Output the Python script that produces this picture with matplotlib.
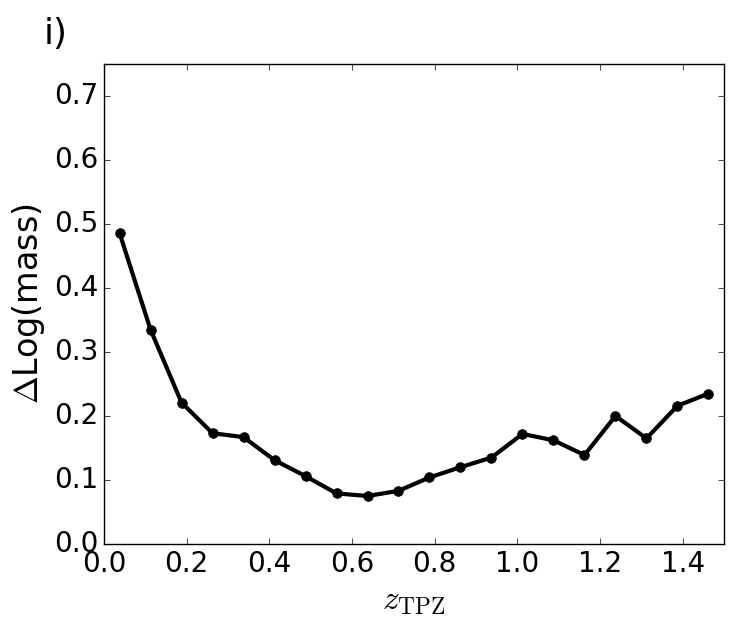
import numpy as np
import matplotlib.pyplot as plt

plt.style.use('classic')

z_tpz = [0.0375, 0.1125, 0.1875, 0.2625, 0.3375, 0.4125, 0.4875, 0.5625, 0.6375, 0.7125,
         0.7875, 0.8625, 0.9375, 1.0125, 1.0875, 1.1625, 1.2375, 1.3125, 1.3875, 1.4625]
dlogmass = [0.486, 0.335, 0.221, 0.173, 0.167, 0.131, 0.106, 0.079, 0.075, 0.083,
            0.104, 0.120, 0.135, 0.172, 0.162, 0.139, 0.200, 0.165, 0.216, 0.235]

fig = plt.figure(figsize=(7.33, 6.27), dpi=100, facecolor='white')
ax = fig.add_axes([0.1419, 0.1324, 0.8458, 0.7656])

ax.plot(z_tpz, dlogmass, color='black', linewidth=3, marker='o', markersize=7)

ax.set_xlim(0, 1.5)
ax.set_ylim(0, 0.75)
ax.set_xticks(np.arange(0, 1.41, 0.2))
ax.set_yticks(np.arange(0, 0.71, 0.1))
ax.tick_params(labelsize=20)
ax.set_xlabel(r'$z_{\rm TPZ}$', fontsize=24)
ax.set_ylabel(r'$\Delta$Log(mass)', fontsize=24)

fig.text(0.06, 0.93, 'i)', fontsize=26)

fig.savefig('out.png', dpi=100, facecolor='white')
